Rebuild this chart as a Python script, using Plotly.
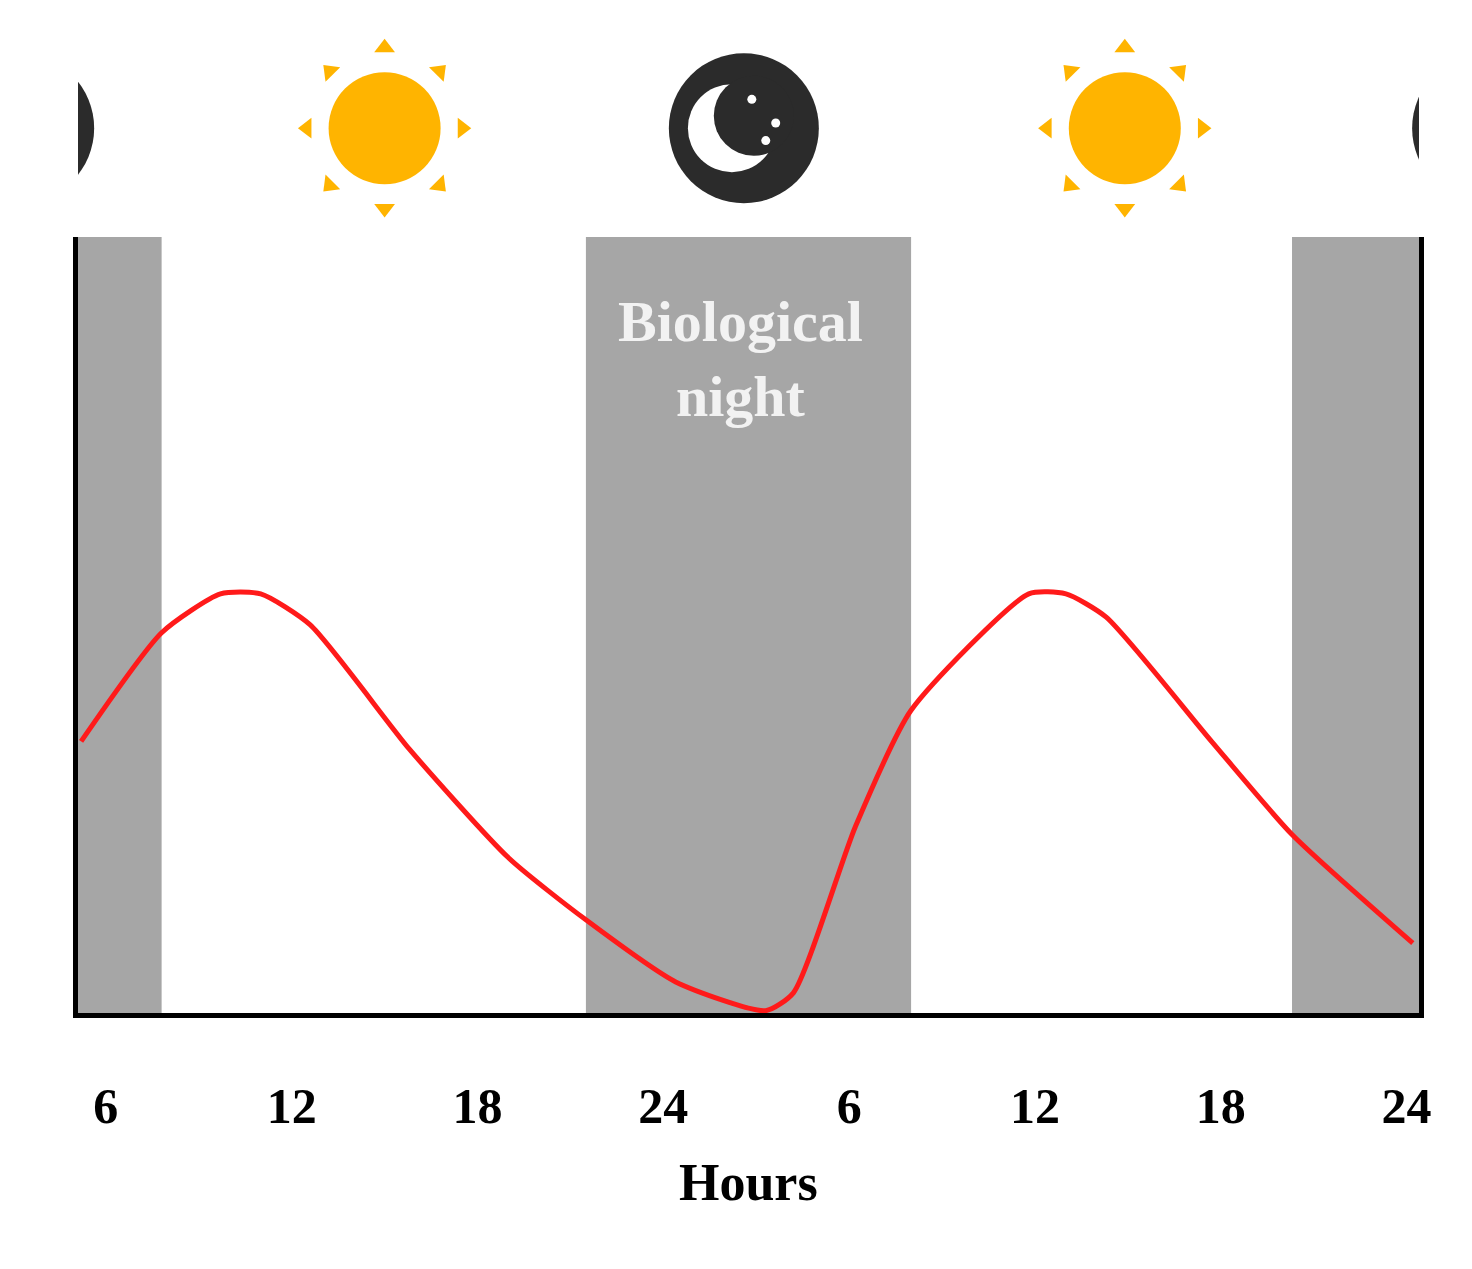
import numpy as np
import plotly.graph_objects as go

hours = [5.2, 7.8, 9.7, 11.0, 12.6, 15.8, 19.0, 21.5, 24.4, 27.3, 28.2, 30.2, 32.0, 35.8, 37.0, 38.3, 41.7, 44.3, 48.2]
level = [35, 49, 54, 54, 50, 34, 20, 12, 4, 0.3, 2.6, 24, 39, 54, 54, 51, 35, 23, 9]
night_bands = [(5.1, 7.8), (21.5, 32.0), (44.3, 48.5)]
tick_vals = [6, 12, 18, 24, 30, 36, 42, 48]
tick_text = ["6", "12", "18", "24", "6", "12", "18", "24"]
sun_x = [15.0, 38.9]
moon_x = [3.2, 26.6, 50.6]

XR = [5.1, 48.4]
PXH = 1347 / (XR[1] - XR[0])  # px per hour
PXY = 175.0

fig = go.Figure()
for a, b in night_bands:
    fig.add_shape(type="rect", xref="x", yref="y", x0=a, x1=b, y0=0, y1=100,
                  fillcolor="#a6a6a6", line_width=0, layer="below")

fig.add_trace(go.Scatter(x=hours, y=level, mode="lines", line=dict(color="#ff1a1a", width=5, shape="spline", smoothing=0.6),
                         showlegend=False, hoverinfo="skip"))

for sx in sun_x:
    fig.add_trace(go.Scatter(x=[sx], y=[0.5], xaxis="x2", yaxis="y2", mode="markers",
                             marker=dict(size=112, color="#ffb400", line_width=0), showlegend=False))
    rx, ry, ang = [], [], []
    for k in range(8):
        t = np.deg2rad(90 - 45 * k)
        rx.append(sx + 78 * np.cos(t) / PXH)
        ry.append(0.5 + 78 * np.sin(t) / PXY)
        ang.append(45 * k)
    fig.add_trace(go.Scatter(x=rx, y=ry, xaxis="x2", yaxis="y2", mode="markers",
                             marker=dict(symbol="triangle-up", size=18, color="#ffb400", angle=ang, line_width=0),
                             showlegend=False))
for mx in moon_x:
    fig.add_trace(go.Scatter(x=[mx], y=[0.5], xaxis="x2", yaxis="y2", mode="markers",
                             marker=dict(size=150, color="#2b2b2b", line_width=0), showlegend=False))
    fig.add_trace(go.Scatter(x=[mx - 12 / PXH], y=[0.5], xaxis="x2", yaxis="y2", mode="markers",
                             marker=dict(size=88, color="white", line_width=0), showlegend=False))
    fig.add_trace(go.Scatter(x=[mx + 10 / PXH], y=[0.5 + 12 / PXY], xaxis="x2", yaxis="y2", mode="markers",
                             marker=dict(size=80, color="#2b2b2b", line_width=0), showlegend=False))
    fig.add_trace(go.Scatter(x=[mx + 8 / PXH, mx + 32 / PXH, mx + 22 / PXH], y=[0.5 + 28 / PXY, 0.5 + 5 / PXY, 0.5 - 12 / PXY],
                             xaxis="x2", yaxis="y2", mode="markers",
                             marker=dict(size=9, color="white", line_width=0), showlegend=False))

fig.add_annotation(x=26.5, y=0.745, xref="x", yref="paper", text="<b>Biological<br>night</b>", showarrow=False,
                   font=dict(family="Liberation Serif", size=58, color="#f2f2f2"), align="center")

fig.add_annotation(x=0.5, y=-0.205, xref="paper", yref="paper", text="<b>Hours</b>", showarrow=False,
                   font=dict(family="Liberation Serif", size=52, color="black"))

fig.update_layout(
    width=1472, height=1269, plot_bgcolor="white", paper_bgcolor="white",
    margin=dict(l=70, r=61, t=30, b=264),
    xaxis=dict(range=XR, tickvals=tick_vals, ticktext=["<b>%s</b>" % t for t in tick_text], showgrid=False, zeroline=False,
               showline=True, linecolor="black", linewidth=5, ticks="", ticklabelstandoff=45,
               tickfont=dict(family="Liberation Serif", size=50, color="black")),
    yaxis=dict(range=[0, 100], domain=[0, 0.796], showgrid=False, zeroline=False, showticklabels=False,
               showline=True, linecolor="black", linewidth=5, mirror=True, ticks=""),
    xaxis2=dict(range=XR, anchor="y2", visible=False),
    yaxis2=dict(range=[0, 1], domain=[0.815, 1.0], anchor="x2", visible=False),
)
fig.write_html("out.html")
